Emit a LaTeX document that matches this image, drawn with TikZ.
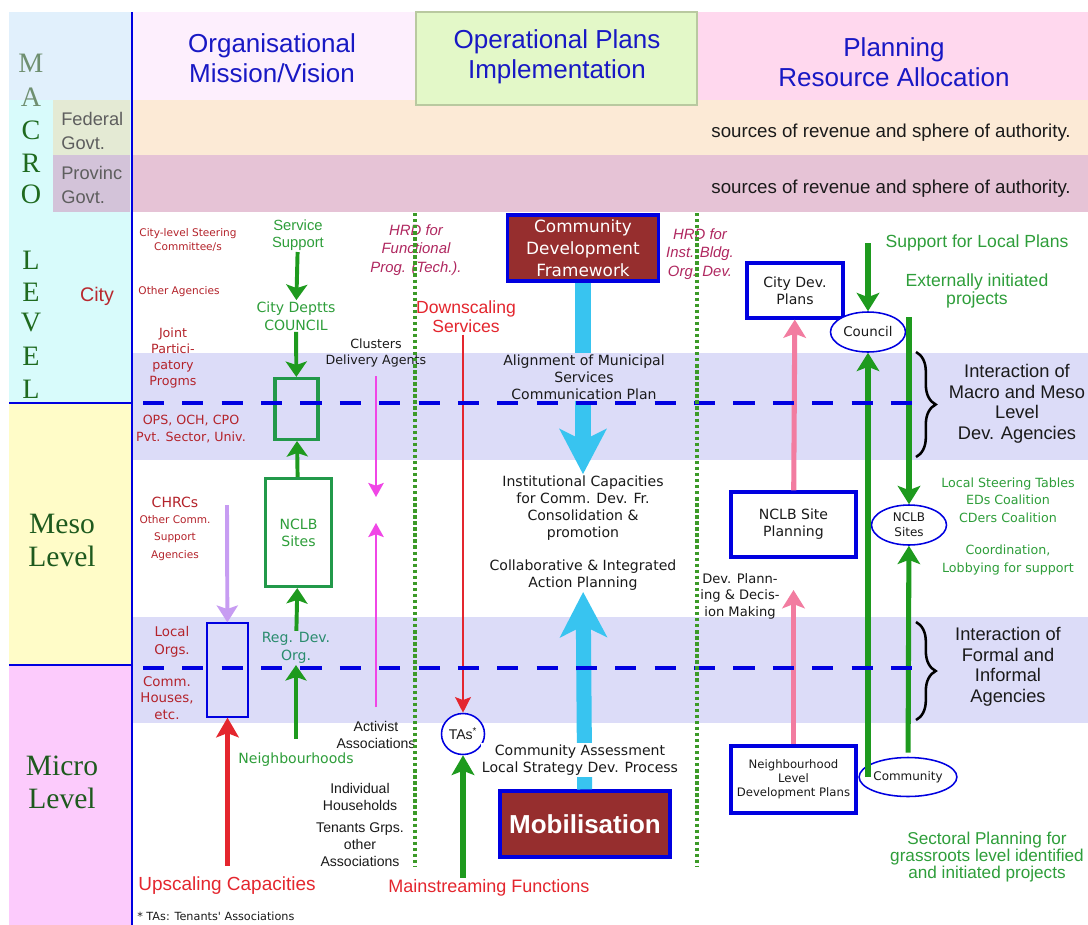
\documentclass[tikz,border=0pt]{standalone}
\usepackage{fontspec}
\setmainfont{Liberation Serif}
\newfontfamily\arialf{Liberation Sans}
\newfontfamily\verdf{DejaVu Sans}
\usepackage{tikz}
\usetikzlibrary{positioning}
\usetikzlibrary{shapes.geometric}
\usetikzlibrary{arrows.meta}
\usetikzlibrary{decorations.pathreplacing}

\newcommand{\fsz}[2]{\fontsize{#1}{#2}\selectfont}

% colours
\definecolor{hdblue}{HTML}{1818C4}
\definecolor{lvgreen}{HTML}{1F6A1F}
\definecolor{lvgray}{HTML}{6F8F70}
\definecolor{lvdark}{HTML}{1E5A1E}
\definecolor{dkred}{HTML}{B4232B}
\definecolor{cityred}{HTML}{B8282E}
\definecolor{hrdred}{HTML}{B02860}
\definecolor{brred}{HTML}{E4262E}
\definecolor{grn}{HTML}{1E9A1E}
\definecolor{tgrn}{HTML}{2E9E3A}
\definecolor{rgteal}{HTML}{2A8C6E}
\definecolor{gboxc}{HTML}{22994A}
\definecolor{band}{HTML}{DCDCF8}
\definecolor{dblue}{HTML}{0000E0}
\definecolor{cyanar}{HTML}{38C4F0}
\definecolor{magar}{HTML}{F046E6}
\definecolor{lavar}{HTML}{C79CF2}
\definecolor{pinkar}{HTML}{F27CA0}
\definecolor{boxbrown}{HTML}{962E2E}
\definecolor{dotg}{HTML}{3C9A28}
\definecolor{fedfill}{HTML}{FCEAD6}
\definecolor{provfill}{HTML}{E6C3D6}
\definecolor{fedcell}{HTML}{E4EAD4}
\definecolor{provcell}{HTML}{D3C3D9}
\definecolor{macfill}{HTML}{D8FBFB}
\definecolor{mactop}{HTML}{E1F0FC}
\definecolor{mesofill}{HTML}{FFFCC8}
\definecolor{micfill}{HTML}{FCCBFC}
\definecolor{orgfill}{HTML}{FDEFFD}
\definecolor{opfill}{HTML}{E3F8C8}
\definecolor{opedge}{HTML}{B9C9A0}
\definecolor{plfill}{HTML}{FFD8EE}
\definecolor{govgray}{HTML}{5E5E5E}
\definecolor{txtblk}{HTML}{1A1A1A}

\tikzset{
  hd/.style={text=hdblue, font=\arialf\fsz{18.5}{21}, align=center, inner sep=0pt},
  govt/.style={text=govgray, font=\arialf\fsz{13}{17}, align=left, inner sep=0pt},
  src/.style={text=txtblk, font=\arialf\fsz{13.3}{15}, inner sep=0pt},
  lvl/.style={font=\fsz{20}{24}, inner sep=0pt},
  lvlb/.style={text=lvdark, font=\fsz{21}{23.5}, align=center},
  cityl/.style={text=cityred, font=\arialf\fsz{14}{16}},
  redsm/.style={text=dkred, font=\verdf\fsz{7.5}{9.3}, align=center, inner sep=1pt},
  redmd/.style={text=dkred, font=\verdf\fsz{9}{11.5}, align=center, inner sep=1pt},
  gtxt/.style={text=tgrn, font=\verdf\fsz{10}{12.5}, align=center, inner sep=1pt},
  gtxta/.style={text=tgrn, font=\arialf\fsz{10.5}{12}, align=center, inner sep=1pt},
  gsm/.style={text=tgrn, font=\verdf\fsz{9}{12.4}, align=center, inner sep=1pt},
  gbig/.style={text=tgrn, font=\arialf\fsz{12.5}{13.3}, align=center, inner sep=1pt},
  blk/.style={text=txtblk, font=\verdf\fsz{10}{12}, align=center, inner sep=1pt},
  blksm/.style={text=txtblk, font=\verdf\fsz{9}{11.7}, align=center, inner sep=1pt},
  ablk/.style={text=txtblk, font=\arialf\fsz{10}{12}, align=center, inner sep=1pt},
  hrd/.style={text=hrdred, font=\arialf\itshape\fsz{10.6}{13}, align=center, inner sep=1pt},
  redbig/.style={text=brred, font=\arialf\fsz{12.5}{13.5}, align=center, inner sep=1pt},
  intr/.style={text=txtblk, font=\arialf\fsz{13}{14.6}, align=center},
  bbox/.style={draw=dblue, line width=2.2pt, fill=white, text=txtblk,
    font=\verdf\fsz{10}{12}, align=center, inner sep=0pt},
  cdfbox/.style={draw=dblue, line width=2.2pt, fill=boxbrown, text=white,
    font=\verdf\fsz{12}{15.5}, align=center, inner sep=0pt},
  mobbox/.style={draw=dblue, line width=2.2pt, fill=boxbrown, text=white,
    font=\arialf\bfseries\fsz{18.5}{20}, inner sep=0pt},
  gbox/.style={draw=gboxc, line width=2.2pt, text=tgrn,
    font=\verdf\fsz{10}{12.2}, align=center, inner sep=0pt},
  lbox/.style={draw=dblue, line width=0.9pt, fill=band, inner sep=0pt},
  ell/.style={ellipse, draw=dblue, line width=1.1pt, fill=white, text=txtblk,
    font=\verdf\fsz{9.5}{10.5}, align=center, inner sep=0pt},
  garr/.style={draw=grn, line width=2.8pt, -{Stealth[length=11pt,width=15pt,inset=2.5pt]}},
  garrl/.style={draw=grn, line width=3.6pt, -{Stealth[length=13pt,width=16pt,inset=3pt]}},
  rarru/.style={draw=brred, line width=3.6pt, -{Stealth[length=14pt,width=16pt,inset=3pt]}},
  rarrd/.style={draw=brred, line width=2.1pt, -{Stealth[length=11pt,width=11pt,inset=2pt]}},
  marr/.style={draw=magar, line width=1.4pt, -{Stealth[length=10pt,width=11pt,inset=2pt]}},
  lavarr/.style={draw=lavar, line width=2.8pt, -{Stealth[length=12pt,width=15pt,inset=2.5pt]}},
  parr/.style={draw=pinkar, line width=3.6pt, -{Stealth[length=13pt,width=16pt,inset=3pt]}},
  cyarr/.style={draw=cyanar, line width=10.7pt, -{Stealth[length=32pt,width=33pt,inset=8pt]}},
  dashln/.style={draw=dblue, line width=2.9pt, dash pattern=on 15pt off 13pt},
  dotln/.style={draw=dotg, line width=2.4pt, dash pattern=on 2.4pt off 1.9pt},
  brc/.style={draw=black, line width=1.8pt, decorate, decoration={brace, amplitude=14pt}},
}

\begin{document}
\begin{tikzpicture}[x=0.25mm, y=-0.25mm]
\useasboundingbox (0,0) rectangle (1088,925);

% Fondos
\fill[white] (0,0) rectangle (1088,925);
\fill[macfill] (9,12) rectangle (132,403);
\fill[mactop] (9,12) rectangle (132,100);
\fill[mesofill] (9,403) rectangle (132,665);
\fill[micfill] (9,665) rectangle (132,925);
\fill[fedcell] (53,100) rectangle (130,155);
\fill[provcell] (53,155) rectangle (130,212);
\fill[orgfill] (133,12) rectangle (415,100);
\fill[plfill] (697,12) rectangle (1088,100);
\fill[fedfill] (133,100) rectangle (1088,155);
\fill[provfill] (133,155) rectangle (1088,212);
\filldraw[fill=opfill, draw=opedge, line width=0.8pt] (416,12) rectangle (697,105);
\fill[band] (133,353) rectangle (1088,460);
\fill[band] (133,617) rectangle (1088,723);
\draw[dblue, line width=1.4pt] (132,12) -- (132,925);
\draw[dblue, line width=1.4pt] (9,403) -- (132,403);
\draw[dblue, line width=1.4pt] (9,665) -- (132,665);

% Cabeceras
\node[hd] (hOrg) at (272,58) {Organisational\\Mission/Vision};
\node[hd] (hOp) at (557,57) {Operational Plans\\Implementation};
\node[hd] (hPl) at (894,62) {Planning\\Resource Allocation};

\node[govt, anchor=west] (fed) at (61,131) {Federal\\Govt.};
\node[govt, anchor=west] (prov) at (61,185) {Provinc\\Govt.};
\node[src, anchor=east] (srcF) at (1071,133) {sources of revenue and sphere of authority.};
\node[src, anchor=east] (srcP) at (1071,189) {sources of revenue and sphere of authority.};

% Niveles
\foreach \l/\y/\c in {M/63/lvgray, A/97/lvgray, C/130/lvgreen, R/163/lvgreen,
  O/194/lvgreen, L/260/lvgreen, E/292/lvgreen, V/323/lvgreen, E/356/lvgreen, L/389/lvgreen}
  \node[lvl, text=\c] (lt\y) at (31,\y) {\l};
\node[cityl] (city) at (97,296) {City};
\node[lvlb] (meso) at (62,540) {Meso\\Level};
\node[lvlb] (micro) at (62,782) {Micro\\Level};

% Columna izquierda
\node[redsm] (steer) at (188,240) {City-level Steering\\Committee/s};
\node[redsm] (othag) at (179,292) {Other Agencies};
\node[redmd] (joint) at (173,358) {Joint\\Partici-\\patory\\Progms};
\node[redmd] (ops) at (191,429) {OPS, OCH, CPO\\Pvt. Sector, Univ.};
\node[redmd, font=\verdf\fsz{10}{12}] (chrc) at (175,502) {CHRCs};
\node[redsm, font=\verdf\fsz{7.5}{12.2}] (othcomm) at (175,538) {Other Comm.\\Support\\Agencies};
\node[redmd, font=\verdf\fsz{9.5}{12.5}] (local) at (172,642) {Local\\Orgs.};
\node[redmd, font=\verdf\fsz{9.5}{12}] (commh) at (167,698) {Comm.\\Houses,\\etc.};

\node[lbox, minimum width=10.25mm, minimum height=23.5mm] (lorg) at (227.5,670) {};
\coordinate (lvtop) at (227,505);
\draw[lavarr] (lvtop) -- (lorg);
\node[redbig, font=\arialf\fsz{13.5}{15}] (upsc) at (227,886) {Upscaling Capacities};
\draw[rarru, shorten <=7pt] (lorg.south |- upsc.north) -- (lorg.south);

% Columna verde
\node[gtxta] (svc) at (298,235) {Service\\Support};
\node[gtxt] (depts) at (296,316) {City Deptts\\COUNCIL};
\node[gbox, minimum width=10.75mm, minimum height=15.25mm] (cbox) at (296.5,409) {};
\node[gbox, minimum width=16.5mm, minimum height=27mm] (nclbA) at (298.5,532.5) {NCLB\\Sites};
\node[gtxt, text=rgteal] (regdev) at (296,648) {Reg. Dev.\\Org.};
\node[gtxt] (nbh) at (296,760) {Neighbourhoods};
\draw[garr] (svc) -- (depts);
\draw[garr] (depts) -- (cbox);
\draw[garr] (nclbA) -- (cbox);
\draw[garr] (regdev) -- (nclbA);
\draw[garr, shorten <=9pt] (nbh) -- (regdev);

% Flechas magenta
\node[blksm] (clus) at (376,353) {Clusters\\Delivery Agents};
\node[ablk] (activ) at (376,735) {Activist\\Associations};
\node[ablk] (indiv) at (360,797) {Individual\\Households};
\node[ablk] (tenant) at (360,845) {Tenants Grps.\\other\\Associations};
\coordinate (mgdown) at (376,497);
\coordinate (mgup) at (376,523);
\draw[marr, shorten <=5pt] (clus) -- (mgdown);
\draw[marr, shorten <=9pt] (activ) -- (mgup);

% HRD y servicios
\node[hrd] (hrdF) at (416,250) {HRD for\\Functional\\Prog. (Tech.).};
\node[hrd] (hrdI) at (700,254) {HRD for\\Inst. Bldg.\\Org. Dev.};
\node[redbig] (down) at (466,317) {Downscaling\\Services};
\node[ell, minimum width=10.75mm, minimum height=10.25mm, font=\arialf\fsz{10}{11}] (tas) at (463,734)
  {TAs\textsuperscript{*}};
\node[redbig, font=\arialf\fsz{12.8}{14}] (mainst) at (489,888) {Mainstreaming Functions};
\draw[rarrd] (tas.north |- down.south) -- (tas.north);
\draw[rarru, draw=grn] (tas.south |- mainst.north) -- (tas.south);

% Centro
\node[cdfbox, minimum width=37.75mm, minimum height=16.5mm] (cdf) at (583,248)
  {Community\\Development\\Framework};
\node[blk] (inst) at (583,508) {Institutional Capacities\\for Comm. Dev. Fr.\\Consolidation \&\\promotion};
\node[blk] (collab) at (583,575) {Collaborative \& Integrated\\Action Planning};
\node[mobbox, minimum width=42.5mm, minimum height=16.5mm] (mobil) at (585,824) {Mobilisation};
\draw[cyarr] (cdf) -- (inst);
\draw[cyarr] (mobil) -- (collab);
\node[blk, fill=band] (align) at (584,377) {Alignment of Municipal\\Services\\Communication Plan};
\node[blk, fill=white] (assess) at (580,760) {Community Assessment\\Local Strategy Dev. Process};

% Planes
\node[bbox, minimum width=24mm, minimum height=13.75mm] (citydev) at (795,290.5) {City Dev.\\Plans};
\node[bbox, minimum width=31.25mm, minimum height=16.25mm] (siteplan) at (793.5,524.5) {NCLB Site\\Planning};
\node[bbox, minimum width=31.25mm, minimum height=16.75mm, font=\verdf\fsz{8.3}{10}] (nbhplan) at (793.5,779.5)
  {Neighbourhood\\Level\\Development Plans};
\node[blksm, font=\verdf\fsz{9.3}{11.7}] (devplan) at (740,596) {Dev. Plann-\\ing \& Decis-\\ion Making};
\coordinate (pktip) at (793.5,590);
\draw[parr] (siteplan) -- (citydev);
\draw[parr] (nbhplan) -- (pktip);

% Columna derecha
\node[gbig] (supp) at (977,243) {Support for Local Plans};
\node[gbig] (extproj) at (977,291) {Externally initiated\\projects};
\node[ell, minimum width=18.75mm, minimum height=10mm] (council) at (868,332) {Council};
\node[ell, minimum width=18.75mm, minimum height=10mm, font=\verdf\fsz{8.5}{10.5}] (nsites) at (909,525) {NCLB\\Sites};
\node[ell, minimum width=18.75mm, minimum height=9.75mm, font=\verdf\fsz{8.5}{10}] (comm) at (908,777) {Community};
\draw[garrl] (council.north |- supp.west) -- (council.north);
\draw[garrl] (council.south |- comm) -- (council.south);
\draw[garrl] (nsites.north |- council.north east) -- (nsites.north);
\draw[garrl, shorten <=3pt] (comm) -- (nsites);
\node[gsm] (steertab) at (1008,500) {Local Steering Tables\\EDs Coalition\\CDers Coalition};
\node[gsm] (coord) at (1008,560) {Coordination,\\Lobbying for support};
\node[gbig, font=\arialf\fsz{12.2}{12.2}] (sector) at (987,857)
  {Sectoral Planning for\\grassroots level identified\\and initiated projects};

% Interacciones
\node[intr] (intA) at (1017,404) {Interaction of\\Macro and Meso\\Level\\Dev. Agencies};
\node[intr] (intB) at (1008,667) {Interaction of\\Formal and\\Informal\\Agencies};
\draw[brc] (916,352) -- (916,457);
\draw[brc] (916,622) -- (916,720);

% Lineas
\draw[dashln] (143,403) -- (928,403);
\draw[dashln] (143,668) -- (922,668);
\draw[dotln] (415,213) -- (415,867);
\draw[dotln] (697,213) -- (697,867);

\node[anchor=north west, inner sep=0pt, text=txtblk, font=\verdf\fsz{8}{9}] (fn) at (137,912)
  {* TAs: Tenants' Associations};
\end{tikzpicture}
\end{document}
